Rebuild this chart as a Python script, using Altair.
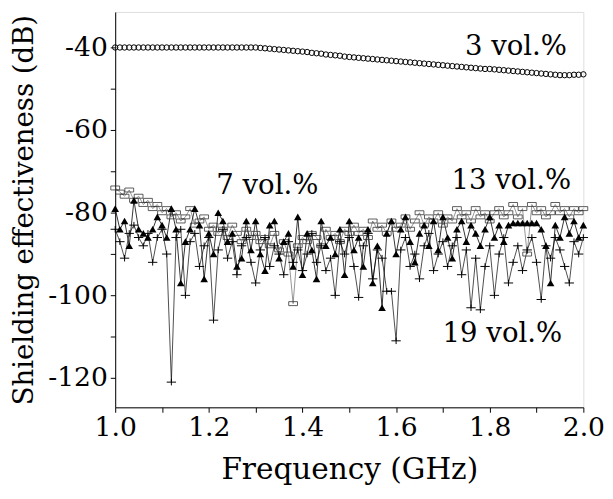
import altair as alt
import pandas as pd

freq = [round(1.0 + 0.01 * i, 2) for i in range(101)]

se_3 = [-40.0] * 31 + [
    -40.1, -40.2, -40.3, -40.4, -40.5, -40.6, -40.7, -40.8, -40.9, -41.0,
    -41.1, -41.3, -41.4, -41.5, -41.7, -41.8, -41.9, -42.0, -42.2, -42.3,
    -42.4, -42.5, -42.6, -42.7, -42.8, -42.9, -43.0, -43.1, -43.2, -43.3,
    -43.4, -43.5, -43.6, -43.7, -43.8, -43.9, -44.0, -44.1, -44.2, -44.3,
    -44.4, -44.5, -44.6, -44.7, -44.8, -44.9, -45.0, -45.1, -45.2, -45.2,
    -45.3, -45.4, -45.5, -45.6, -45.7, -45.8, -45.9, -46.0, -46.1, -46.2,
    -46.3, -46.4, -46.5, -46.6, -46.7, -46.7, -46.7, -46.6, -46.6, -46.5,
]

se_7 = [
    -74, -75, -76, -74.5, -77, -76, -78, -77, -79, -78,
    -80, -79, -81, -80, -82, -81, -79, -83, -82, -81,
    -84, -83, -85, -84, -86, -83, -85, -87, -84, -86,
    -85, -87, -86, -88, -85, -89, -87, -90, -102, -88,
    -86, -87, -85, -86, -88, -84, -86, -85, -87, -84,
    -85, -83, -85, -84, -86, -82, -84, -83, -85, -82,
    -84, -83, -81, -84, -82, -80, -83, -81, -82, -80,
    -83, -81, -82, -79, -81, -80, -82, -79, -81, -80,
    -82, -80, -79, -81, -80, -78, -81, -79, -90, -78,
    -80, -79, -81, -80, -78, -80, -79, -81, -79, -80,
    -79,
]

se_13 = [
    -79, -84, -82, -88, -77, -84, -85, -86, -84, -81,
    -83, -86, -79, -84, -97, -87, -84, -79, -83, -96,
    -85, -90, -80, -82, -87, -85, -93, -91, -82, -89,
    -82, -90, -94, -83, -82, -91, -87, -85, -93, -81,
    -95, -85, -89, -96, -82, -88, -86, -90, -84, -95,
    -82, -89, -86, -93, -84, -97, -88, -103, -85, -82,
    -90, -84, -81, -87, -92, -85, -83, -88, -82, -89,
    -81, -86, -91, -84, -82, -87, -83, -85, -88, -84,
    -81, -86, -83, -87, -83, -82.5, -82.5, -82.5, -82.5, -82.5,
    -82.5, -84, -88, -97, -83, -86, -81, -85, -82, -86,
    -83,
]

se_19 = [
    -84, -87, -91, -85, -83, -86, -88, -85, -92, -86,
    -84, -90, -121, -86, -84, -100, -87, -85, -93, -88,
    -86, -106, -89, -84, -91, -87, -95, -88, -86, -92,
    -97, -89, -86, -93, -88, -90, -95, -87, -92, -89,
    -94, -90, -85, -92, -88, -94, -91, -100, -87, -90,
    -86, -93, -100.5, -88, -85, -96, -89, -91, -99, -99,
    -111, -89, -86, -93, -90, -96, -88, -85, -94, -90,
    -87, -93, -88, -86, -95, -89, -103, -91, -103.5, -93,
    -88, -100, -90, -86, -97, -92, -88, -94, -89, -86,
    -92, -101, -88, -91, -86, -89, -93, -97, -87, -90,
    -86,
]

label_text = ["3 vol.%", "7 vol.%", "13 vol.%", "19 vol.%"]
label_freq = [1.856, 1.325, 1.846, 1.827]
label_se = [-40, -73.6, -72.4, -109.3]

df3 = pd.DataFrame({"f": freq, "se": se_3})
df7 = pd.DataFrame({"f": freq, "se": se_7})
df13 = pd.DataFrame({"f": freq, "se": se_13})
df19 = pd.DataFrame({"f": freq, "se": se_19})
dfl = pd.DataFrame({"f": label_freq, "se": label_se, "t": label_text})

FONT = "DejaVu Serif"
xs = alt.Scale(domain=[1.0, 2.0], nice=False, zero=False)
ys = alt.Scale(domain=[-127.1, -31.4], nice=False, zero=False)

x_enc = alt.X(
    "f:Q", scale=xs, title="Frequency (GHz)",
    axis=alt.Axis(
        values=[round(1.0 + 0.1 * i, 1) for i in range(11)],
        labelExpr="round(datum.value*10) % 2 == 0 ? format(datum.value, '.1f') : ''",
        grid=False, tickSize=5, tickColor="black", domainColor="black",
        labelFont=FONT, labelFontSize=27, labelColor="black",
        titleFont=FONT, titleFontSize=30, titleFontWeight="normal", titleColor="black",
        labelPadding=3, titlePadding=14, labelFlush=False,
    ),
)
y_enc = alt.Y(
    "se:Q", scale=ys, title="Shielding effectiveness (dB)",
    axis=alt.Axis(
        values=[-120 + 10 * i for i in range(9)],
        labelExpr="datum.value % 20 == 0 ? '-' + abs(datum.value) : ''",
        grid=False, tickSize=5, tickColor="black", domainColor="black",
        labelFont=FONT, labelFontSize=27, labelColor="black",
        titleFont=FONT, titleFontSize=28, titleFontWeight="normal", titleColor="black",
        labelPadding=3, titlePadding=9,
    ),
)

rect_path = "M-1,-0.45L1,-0.45L1,0.45L-1,0.45Z"
plus_path = "M-1,0L1,0M0,-0.7L0,0.7"

c3 = alt.Chart(df3).mark_point(shape="circle", filled=False, size=30, color="black", strokeWidth=1, opacity=1).encode(x=x_enc, y=y_enc)

l7 = alt.Chart(df7).mark_line(color="#666666", strokeWidth=0.7).encode(x=x_enc, y=y_enc)
p7 = alt.Chart(df7).mark_point(shape=rect_path, filled=False, size=80, color="#333333", strokeWidth=0.8, opacity=1).encode(x=x_enc, y=y_enc)

l13 = alt.Chart(df13).mark_line(color="black", strokeWidth=0.8).encode(x=x_enc, y=y_enc)
p13 = alt.Chart(df13).mark_point(shape="triangle-up", filled=True, size=60, color="black", opacity=1).encode(x=x_enc, y=y_enc)

l19 = alt.Chart(df19).mark_line(color="black", strokeWidth=0.7).encode(x=x_enc, y=y_enc)
p19 = alt.Chart(df19).mark_point(shape=plus_path, filled=False, size=90, color="black", strokeWidth=1, opacity=1).encode(x=x_enc, y=y_enc)

labels = alt.Chart(dfl).mark_text(font=FONT, fontSize=28, color="black").encode(x=x_enc, y=y_enc, text="t:N")

chart = alt.layer(c3, l7, l13, l19, p7, p13, p19, labels).properties(
    width=476, height=402,
    padding={"top": 0, "left": 3, "right": 0, "bottom": 0},
).configure_view(stroke="black", strokeWidth=1.2).configure(background="white")

chart.save("out.html", embed_options={"renderer": "svg", "actions": False})
